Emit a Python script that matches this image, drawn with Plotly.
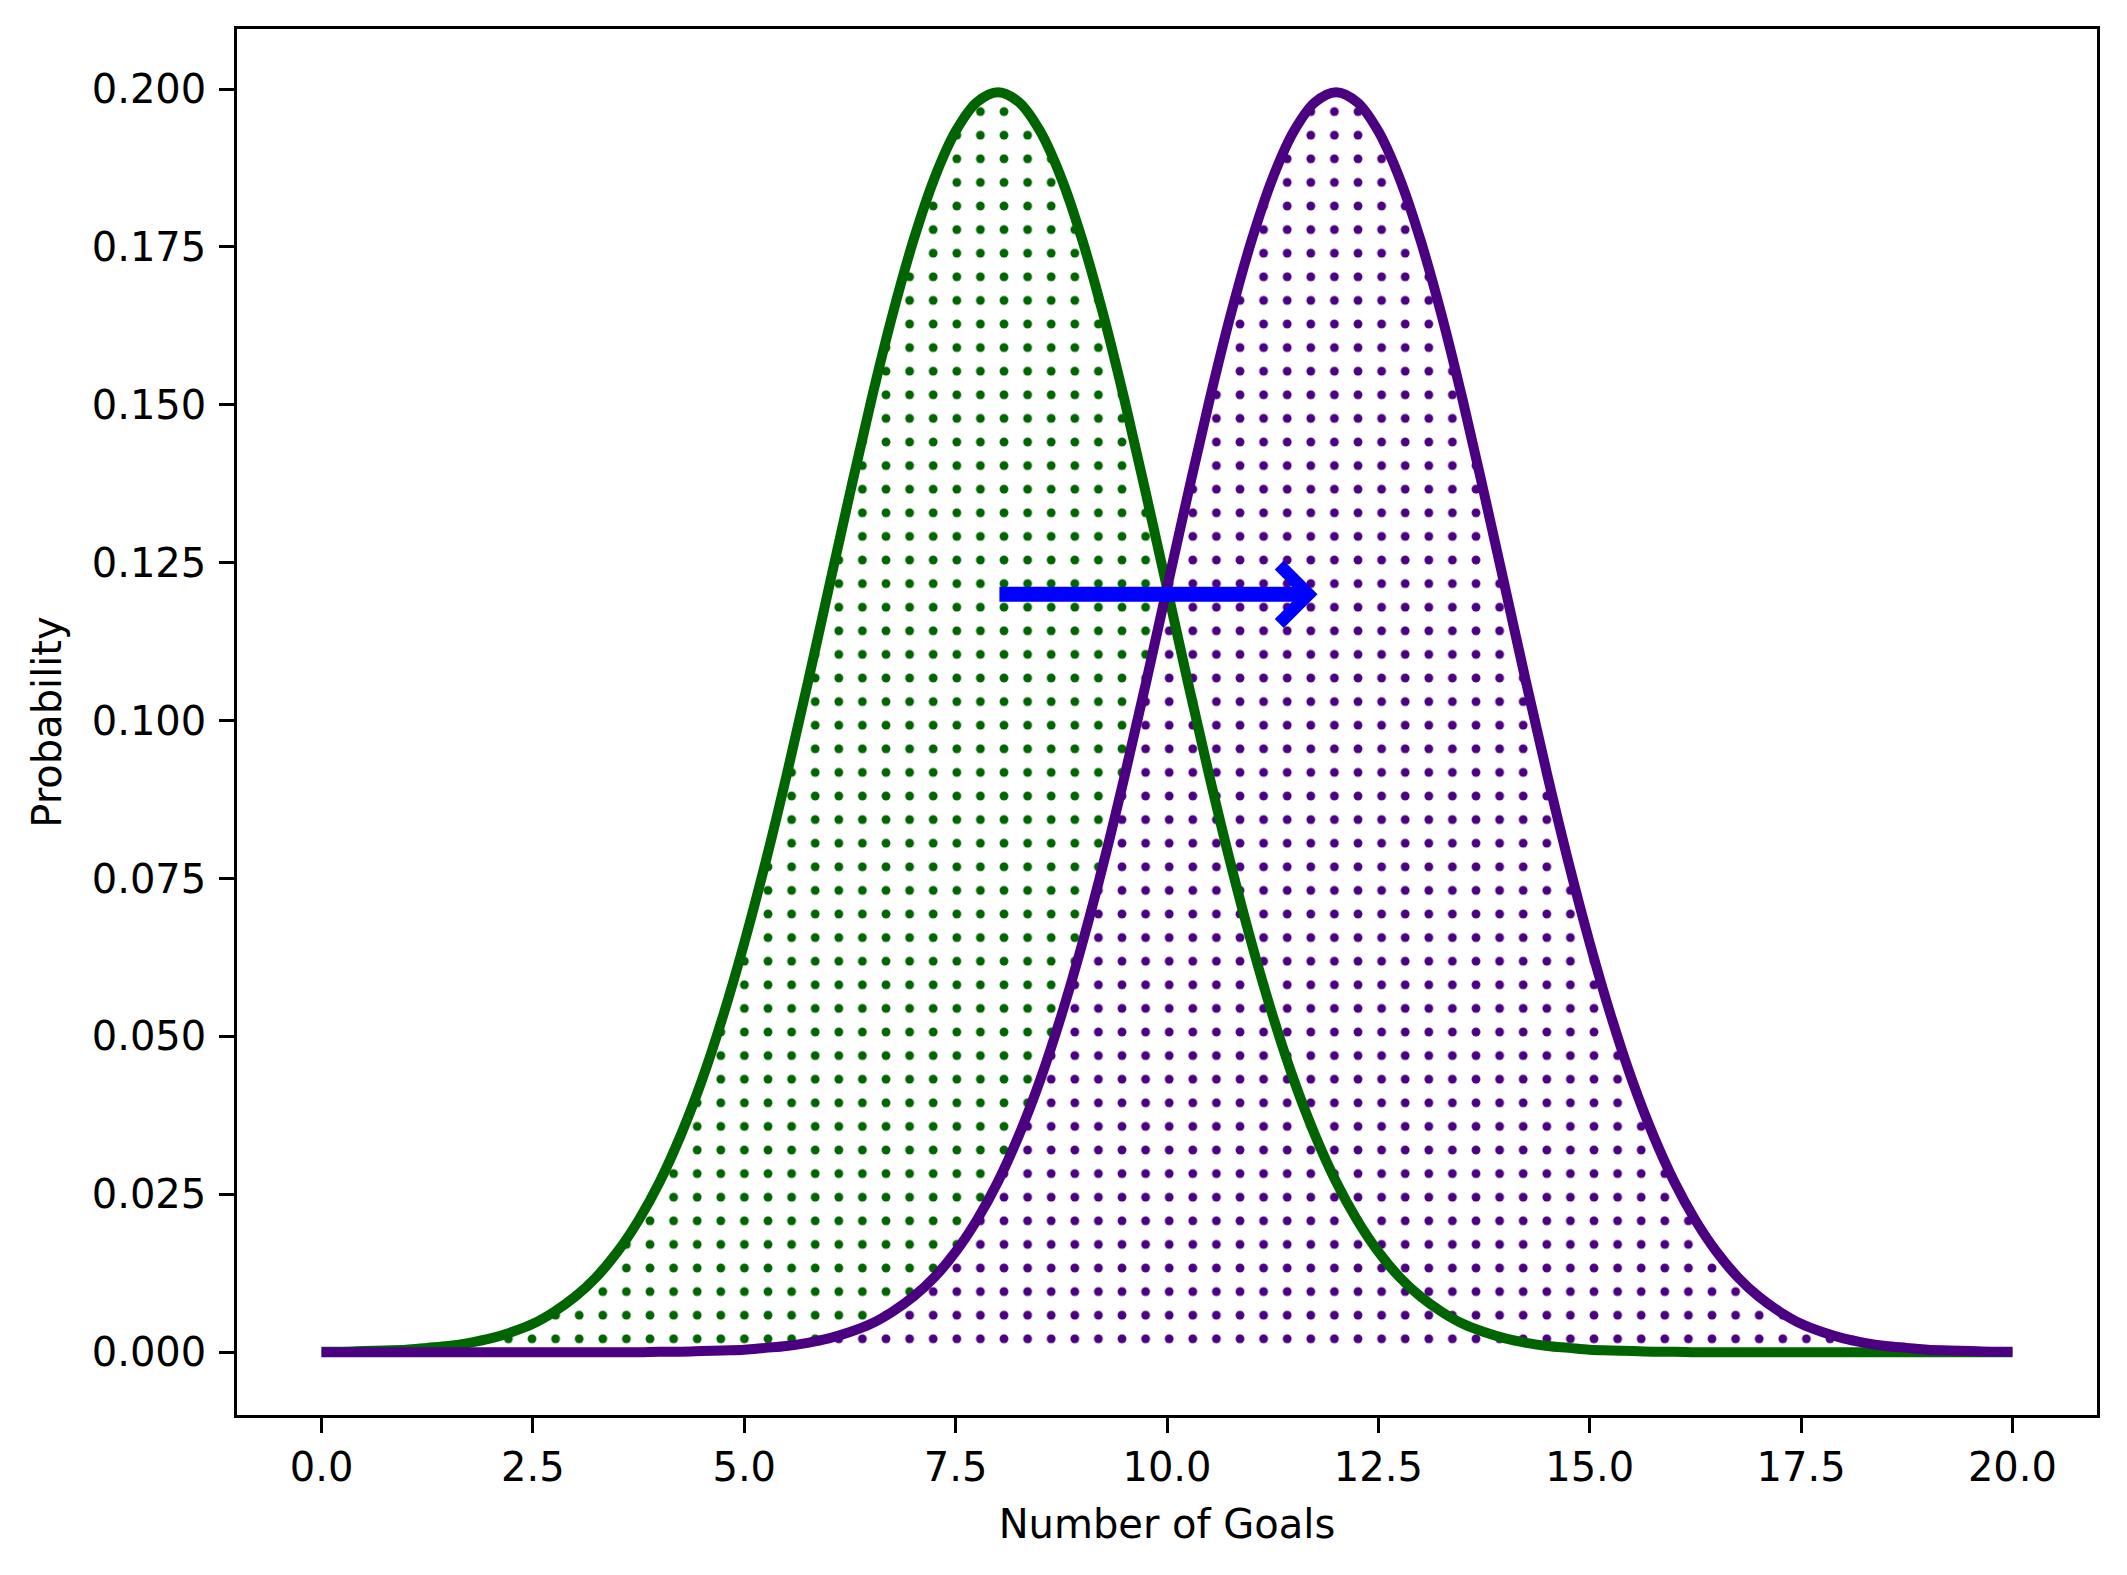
import plotly.graph_objects as go

# Goals axis (read at 0.25 steps)
goals = [i * 0.25 for i in range(81)]

# Probability curves (green peaks at 8, purple peaks at 12)
prob_green = [0.0001, 0.0001, 0.0002, 0.0003, 0.0004, 0.0007, 0.0010, 0.0015,
              0.0022, 0.0032, 0.0045, 0.0064, 0.0088, 0.0119, 0.0159, 0.0209,
              0.0270, 0.0344, 0.0431, 0.0533, 0.0648, 0.0775, 0.0913, 0.1059,
              0.1210, 0.1360, 0.1506, 0.1641, 0.1760, 0.1859, 0.1933, 0.1979,
              0.1995,
              0.1979, 0.1933, 0.1859, 0.1760, 0.1641, 0.1506, 0.1360, 0.1210,
              0.1059, 0.0913, 0.0775, 0.0648, 0.0533, 0.0431, 0.0344, 0.0270,
              0.0209, 0.0159, 0.0119, 0.0088, 0.0064, 0.0045, 0.0032, 0.0022,
              0.0015, 0.0010, 0.0007, 0.0004, 0.0003, 0.0002, 0.0001, 0.0001,
              0.0, 0.0, 0.0, 0.0, 0.0, 0.0, 0.0, 0.0,
              0.0, 0.0, 0.0, 0.0, 0.0, 0.0, 0.0, 0.0]
prob_purple = [0.0, 0.0, 0.0, 0.0, 0.0, 0.0, 0.0, 0.0,
               0.0, 0.0, 0.0, 0.0, 0.0, 0.0, 0.0, 0.0,
               0.0001, 0.0001, 0.0002, 0.0003, 0.0004, 0.0007, 0.0010, 0.0015,
               0.0022, 0.0032, 0.0045, 0.0064, 0.0088, 0.0119, 0.0159, 0.0209,
               0.0270, 0.0344, 0.0431, 0.0533, 0.0648, 0.0775, 0.0913, 0.1059,
               0.1210, 0.1360, 0.1506, 0.1641, 0.1760, 0.1859, 0.1933, 0.1979,
               0.1995,
               0.1979, 0.1933, 0.1859, 0.1760, 0.1641, 0.1506, 0.1360, 0.1210,
               0.1059, 0.0913, 0.0775, 0.0648, 0.0533, 0.0431, 0.0344, 0.0270,
               0.0209, 0.0159, 0.0119, 0.0088, 0.0064, 0.0045, 0.0032, 0.0022,
               0.0015, 0.0010, 0.0007, 0.0004, 0.0003, 0.0002, 0.0001, 0.0001]

# Arrow (shift of the mean)
arrow_start = (8.0, 0.12)
arrow_end = (11.78, 0.12)

x_ticks = [0, 2.5, 5, 7.5, 10, 12.5, 15, 17.5, 20]
y_ticks = [0, 0.025, 0.05, 0.075, 0.1, 0.125, 0.15, 0.175, 0.2]

GREEN = "#006400"
PURPLE = "#4B0082"
FONT = "DejaVu Sans"
FS = 40

fig = go.Figure()

# dotted fills (purple drawn on a white ground so it hides green dots where they overlap)
for ys, col, bg in [(prob_green, GREEN, "rgba(0,0,0,0)"), (prob_purple, PURPLE, "white")]:
    fig.add_trace(go.Scatter(
        x=goals, y=ys, mode="lines", line=dict(width=0, shape="spline", color=col),
        fill="tozeroy", fillcolor=bg,
        fillpattern=dict(shape=".", fgcolor=col, bgcolor=bg, fgopacity=1,
                         size=23.6, solidity=0.11),
        showlegend=False, hoverinfo="skip"))

# outlines
for ys, col in [(prob_green, GREEN), (prob_purple, PURPLE)]:
    fig.add_trace(go.Scatter(
        x=goals, y=ys, mode="lines",
        line=dict(width=10, shape="spline", color=col),
        showlegend=False))

fig.add_annotation(
    x=arrow_end[0], y=arrow_end[1], ax=arrow_start[0], ay=arrow_start[1],
    xref="x", yref="y", axref="x", ayref="y", text="", showarrow=True,
    arrowhead=4, arrowwidth=15, arrowsize=0.75, arrowcolor="#0000FF", standoff=0)

axis_common = dict(showline=True, mirror=True, linecolor="black", linewidth=3.3,
                   ticks="outside", ticklen=14.6, tickwidth=3.3, tickcolor="black",
                   showgrid=False, zeroline=False,
                   tickfont=dict(family=FONT, size=FS, color="black"))

fig.update_xaxes(range=[-1, 21], tickvals=x_ticks, tickformat=".1f",
                 title=dict(text="Number of Goals", standoff=22,
                            font=dict(family=FONT, size=FS, color="black")),
                 **axis_common)
fig.update_yaxes(range=[-0.00993, 0.2095], tickvals=y_ticks, tickformat=".3f",
                 ticklabelstandoff=5,
                 title=dict(text="Probability", standoff=18,
                            font=dict(family=FONT, size=FS, color="black")),
                 **axis_common)

fig.update_layout(width=2127, height=1575,
                  margin=dict(l=237, r=30, t=29, b=160, autoexpand=False),
                  plot_bgcolor="white", paper_bgcolor="white",
                  font=dict(family=FONT, size=FS, color="black"))

fig.write_html("out.html")
